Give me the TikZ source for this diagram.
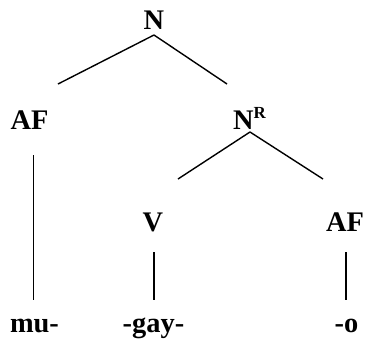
\documentclass[tikz,border=0pt]{standalone}
\usepackage{fontspec}
\setmainfont{Liberation Serif}
\begin{document}
\begin{tikzpicture}[x=1bp,y=-1bp,
  lbl/.style={font=\bfseries\fontsize{28.5}{30}\selectfont, inner sep=0pt, anchor=base},
  edge/.style={line width=1.4bp, line cap=butt}]
\useasboundingbox (0,0) rectangle (368,343);
% labels
\node[lbl] (N) at (154,29) {N};
\node[lbl] (AFl) at (29.5,129) {AF};
\node[lbl, anchor=base west] (NR) at (233,129) {N\raisebox{11bp}{\fontsize{17}{17}\selectfont R}};
\node[lbl] (V) at (153,231) {V};
\node[lbl] (AFr) at (345,231) {AF};
\node[lbl] (mu) at (34.5,332) {mu-};
\node[lbl] (gay) at (153.5,332) {-gay-};
\node[lbl] (o) at (346.5,332) {-o};
% connector end points
\coordinate (N-s) at (154,35);
\coordinate (AFl-n) at (58,84);
\coordinate (NR-n) at (227,84);
\coordinate (NR-s) at (250,132);
\coordinate (V-n) at (178,179);
\coordinate (AFr-n) at (323,179);
\coordinate (AFl-s) at (33.5,155);
\coordinate (mu-n) at (33.5,300);
\coordinate (V-s) at (154,252);
\coordinate (gay-n) at (154,300);
\coordinate (AFr-s) at (346,252);
\coordinate (o-n) at (346,300);
% connectors
\draw[edge] (N-s) -- (AFl-n);
\draw[edge] (N-s) -- (NR-n);
\draw[edge] (NR-s) -- (V-n);
\draw[edge] (NR-s) -- (AFr-n);
\draw[edge] (AFl-s) -- (mu-n);
\draw[edge] (V-s) -- (gay-n);
\draw[edge] (AFr-s) -- (o-n);
\end{tikzpicture}
\end{document}
